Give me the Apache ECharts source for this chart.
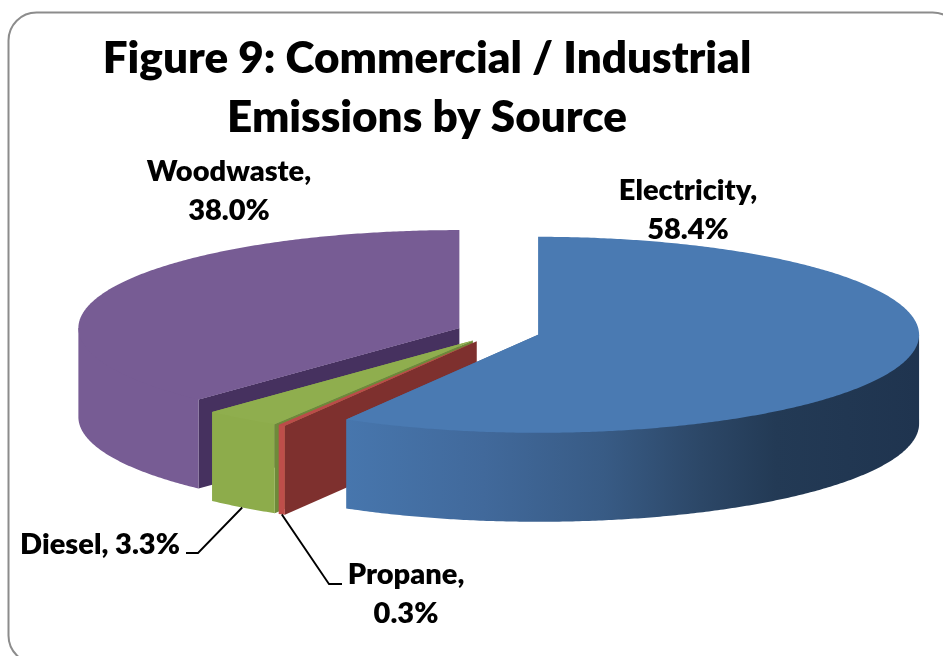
<!DOCTYPE html>
<html>
<head>
<meta charset="utf-8">
<title>Commercial / Industrial Emissions by Source</title>
<script src="https://cdn.jsdelivr.net/npm/echarts@6/dist/echarts.min.js"></script>
<style>
  html, body { margin: 0; padding: 0; background: #fff; }
  #chart { width: 943px; height: 656px; }
</style>
</head>
<body>
<div id="chart"></div>
<script>
// Share of emissions per source, clockwise from twelve o'clock.
const categories = ['Electricity', 'Propane', 'Diesel', 'Woodwaste'];
const shares = [58.4, 0.3, 3.3, 38.0];

// Fill colours per source: top face, outer wall, cut face.
const topColors = ['#4A7AB2', '#BA4C49', '#8FAE4E', '#775C94'];
const wallColors = [null, '#BE4E4A', '#8DAC4B', '#775C94'];
const cutColors = ['#2A4566', '#7E302E', '#6E8A3A', '#46315F'];

// Shading along the electricity wall, lit on the left and dark on the right.
const electricityWallStops = [
  { offset: 0, color: '#4776AD' },
  { offset: 0.24, color: '#41699B' },
  { offset: 0.45, color: '#385B85' },
  { offset: 0.62, color: '#2C4767' },
  { offset: 0.75, color: '#233A55' },
  { offset: 1, color: '#1F344F' }
];

// Projected pie: ellipse radii, extruded depth, and how far slices pull out.
const pie = { cx: 498, cy: 332, rx: 381, ry: 98, depth: 89, explode: 0.109 };

// Label text lines and their placement; leader lines end at "elbow" then "tail".
const labelFont = '800 29px Lato, "Open Sans", sans-serif';
const labelLines = [
  { lines: ['Electricity,', '58.4%'], x: 688, y: 205, lead: 39 },
  { lines: ['Propane,', '0.3%'], x: 406, y: 589, lead: 39, elbow: [329, 584], tail: [342, 584] },
  { lines: ['Diesel, 3.3%'], x: 100, y: 559, lead: 39, elbow: [198, 553], tail: [186, 553] },
  { lines: ['Woodwaste,', '38.0%'], x: 229, y: 186, lead: 39 }
];

const DEG = Math.PI / 180;
const total = shares.reduce((a, b) => a + b, 0);

function sliceGeometry(index) {
  const before = shares.slice(0, index).reduce((a, b) => a + b, 0);
  const start = before / total * 360;
  const end = (before + shares[index]) / total * 360;
  const mid = (start + end) / 2;
  return {
    start, end, mid,
    ax: pie.cx + pie.explode * pie.rx * Math.sin(mid * DEG),
    ay: pie.cy - pie.explode * pie.ry * Math.cos(mid * DEG)
  };
}

function rimPoint(g, deg, drop) {
  return [g.ax + pie.rx * Math.sin(deg * DEG), g.ay - pie.ry * Math.cos(deg * DEG) + drop];
}

function arc(g, from, to, drop) {
  const pts = [];
  const steps = Math.max(2, Math.ceil((to - from) * 2));
  for (let i = 0; i <= steps; i++) pts.push(rimPoint(g, from + (to - from) * i / steps, drop));
  return pts;
}

function renderSlice(params) {
  const i = params.dataIndex;
  const g = sliceGeometry(i);
  const layer = (categories.length - i) * 10;
  const children = [];

  // Radial cut faces that turn toward the viewer.
  const cutFace = (deg) => ({
    type: 'polygon',
    z2: layer,
    shape: { points: [[g.ax, g.ay], rimPoint(g, deg, 0), rimPoint(g, deg, pie.depth), [g.ax, g.ay + pie.depth]] },
    style: { fill: cutColors[i] }
  });
  if (Math.sin(g.start * DEG) < -1e-6) children.push(cutFace(g.start));
  if (Math.sin(g.end * DEG) > 1e-6) children.push(cutFace(g.end));

  // Outer wall over the front half of the rim; it reaches back under the
  // top face so no seam shows along the shared edge.
  const wallFrom = Math.max(g.start, 90);
  const wallTo = Math.min(g.end, 270);
  if (wallTo > wallFrom) {
    const lower = arc(g, wallFrom, wallTo, pie.depth);
    const left = rimPoint(g, wallTo, 0)[0];
    const right = rimPoint(g, wallFrom, 0)[0];
    children.push({
      type: 'polygon',
      z2: layer + 1,
      shape: { points: [[g.ax, g.ay], rimPoint(g, wallFrom, 0)].concat(lower, [rimPoint(g, wallTo, 0)]) },
      style: {
        fill: wallColors[i] || {
          type: 'linear', x: left, y: 0, x2: right, y2: 0, global: true,
          colorStops: electricityWallStops
        }
      }
    });
  }

  // Top face.
  children.push({
    type: 'polygon',
    z2: layer + 2,
    shape: { points: [[g.ax, g.ay]].concat(arc(g, g.start, g.end, 0)) },
    style: { fill: topColors[i] }
  });

  // Leader line from the bottom of the rim to the label.
  const lab = labelLines[i];
  if (lab.elbow) {
    children.push({
      type: 'polyline',
      z2: 100,
      shape: { points: [rimPoint(g, g.mid, pie.depth), lab.elbow, lab.tail] },
      style: { stroke: '#000', lineWidth: 1.8, fill: 'none' }
    });
  }

  // Label text.
  lab.lines.forEach((line, n) => {
    children.push({
      type: 'text',
      z2: 101,
      style: {
        text: line, x: lab.x, y: lab.y + n * lab.lead,
        textAlign: 'center', textVerticalAlign: 'bottom',
        font: labelFont, fill: '#000'
      }
    });
  });

  return { type: 'group', children };
}

const chart = echarts.init(document.getElementById('chart'), null, { renderer: 'canvas' });
chart.setOption({
  animation: false,
  backgroundColor: '#fff',
  title: {
    text: 'Figure 9: Commercial / Industrial\nEmissions by Source',
    left: 422,
    top: 24,
    textAlign: 'center',
    textStyle: {
      fontFamily: 'Lato, "Open Sans", sans-serif',
      fontWeight: 800,
      fontSize: 44,
      lineHeight: 59,
      color: '#000'
    }
  },
  graphic: [{
    type: 'rect',
    silent: true,
    shape: { x: 8.5, y: 12.5, width: 952, height: 651, r: 28 },
    style: { fill: 'none', stroke: '#8C8C8C', lineWidth: 2 }
  }],
  series: [{
    type: 'custom',
    coordinateSystem: 'none',
    silent: true,
    clip: false,
    data: shares.map((v, i) => ({ name: categories[i], value: [v] })),
    renderItem: renderSlice
  }]
});
</script>
</body>
</html>
